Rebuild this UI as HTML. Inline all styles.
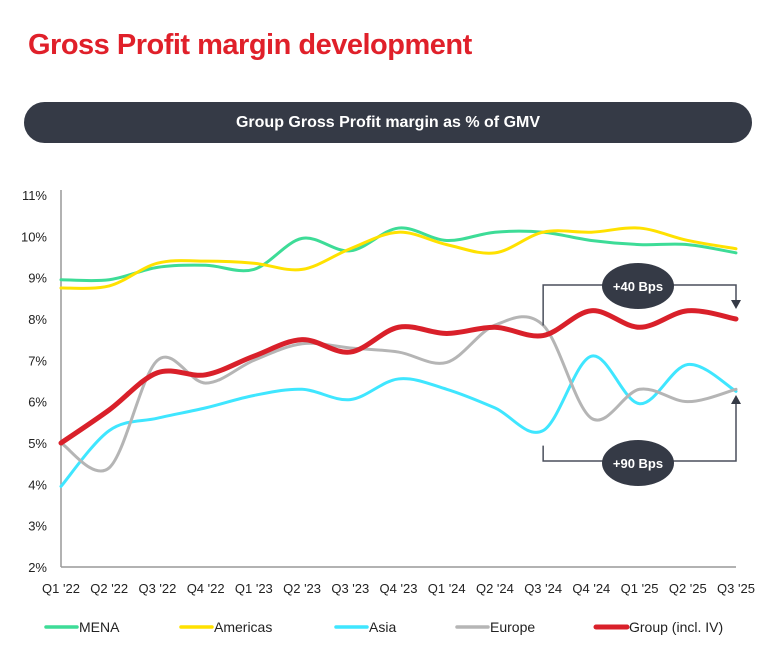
<!DOCTYPE html>
<html><head><meta charset="utf-8"><style>
body{margin:0;width:774px;height:658px;background:#fff;font-family:"Liberation Sans",sans-serif;overflow:hidden;position:relative}
.title{position:absolute;left:28px;top:29px;font-size:29px;font-weight:bold;color:#e0202a;letter-spacing:-0.5px}
.banner{position:absolute;left:24px;top:102px;width:728px;height:41px;border-radius:21px;background:#353a46;color:#fff;font-size:16px;font-weight:bold;text-align:center;line-height:41px}
svg{position:absolute;left:0;top:0}
</style></head><body>
<div class="title">Gross Profit margin development</div>
<div class="banner">Group Gross Profit margin as % of GMV</div>
<svg id="c" width="774" height="658"></svg>
<script>
const categories=["Q1 '22","Q2 '22","Q3 '22","Q4 '22","Q1 '23","Q2 '23","Q3 '23","Q4 '23","Q1 '24","Q2 '24","Q3 '24","Q4 '24","Q1 '25","Q2 '25","Q3 '25"];
const yTicks=[2,3,4,5,6,7,8,9,10,11];
const mena=[8.95,8.95,9.25,9.3,9.2,9.95,9.65,10.2,9.9,10.1,10.1,9.9,9.8,9.8,9.6];
const americas=[8.75,8.8,9.35,9.4,9.35,9.2,9.7,10.1,9.8,9.6,10.1,10.1,10.2,9.9,9.7];
const asia=[3.95,5.3,5.6,5.85,6.15,6.3,6.05,6.55,6.3,5.85,5.3,7.1,5.95,6.9,6.25];
const europe=[5.0,4.4,7.0,6.45,7.0,7.4,7.3,7.2,6.95,7.85,7.85,5.6,6.3,6.0,6.3];
const group=[5.0,5.8,6.7,6.65,7.1,7.5,7.2,7.8,7.65,7.8,7.6,8.2,7.8,8.2,8.0];
const seriesNames=["MENA","Americas","Asia","Europe","Group (incl. IV)"];
const ns="http://www.w3.org/2000/svg",svg=document.getElementById('c');
const x0=61,x1=736,yB=567,yT=195;
const X=i=>x0+i*(x1-x0)/(categories.length-1);
const Y=v=>yB-(v-2)*(yB-yT)/9;
function el(t,a){const e=document.createElementNS(ns,t);for(const k in a)e.setAttribute(k,a[k]);svg.appendChild(e);return e;}
let e=el('line',{x1:x0,y1:yT-5,x2:x0,y2:yB,stroke:'#999','stroke-width':1.5});

e=el('line',{x1:x0,y1:yB,x2:x1,y2:yB,stroke:'#999','stroke-width':1.5});

yTicks.forEach(v=>{const t=el('text',{x:47,y:Y(v)+5,'text-anchor':'end','font-size':13,fill:'#222'});t.textContent=v+'%';
});
categories.forEach((c,i)=>{const t=el('text',{x:X(i),y:593,'text-anchor':'middle','font-size':13,fill:'#222'});t.textContent=c;
});
function path(d){const p=d.map((v,i)=>[X(i),Y(v)]);let s='M'+p[0][0]+','+p[0][1];
for(let i=0;i<p.length-1;i++){const a=p[i-1]||p[i],b=p[i],c=p[i+1],d2=p[i+2]||c;
s+=` C${b[0]+(c[0]-a[0])/6},${b[1]+(c[1]-a[1])/6} ${c[0]-(d2[0]-b[0])/6},${c[1]-(d2[1]-b[1])/6} ${c[0]},${c[1]}`;}return s;}
const cols=['#3ddc97','#ffe100','#3fe6ff','#b5b5b5','#d9202a'];
const widths=[3,3,3,3,5];
[mena,americas,asia,europe,group].forEach((d,k)=>{const p=el('path',{d:path(d),fill:'none',stroke:cols[k],'stroke-width':widths[k],'stroke-linecap':'round'});
});
const ax=X(10);
e=el('path',{d:`M${ax},${Y(group[10])-10} V285 H${x1} V300`,fill:'none',stroke:'#4a4f5c','stroke-width':1.5});

e=el('path',{d:`M${x1-5},300 L${x1+5},300 L${x1},309 Z`,fill:'#353a46'});

e=el('path',{d:`M${ax},${Y(asia[10])+15} V461 H${x1} V404`,fill:'none',stroke:'#4a4f5c','stroke-width':1.5});

e=el('path',{d:`M${x1-5},404 L${x1+5},404 L${x1},395 Z`,fill:'#353a46'});

[[286,'+40 Bps'],[463,'+90 Bps']].forEach(([cy,t])=>{const g=el('ellipse',{cx:638,cy:cy,rx:36,ry:23,fill:'#353a46'});

const tx=el('text',{x:638,y:cy+5,'text-anchor':'middle','font-size':13,'font-weight':'bold',fill:'#fff'});tx.textContent=t;
});
const lx=[46,181,336,457,596];
seriesNames.forEach((n,k)=>{const l=el('line',{x1:lx[k],y1:627,x2:lx[k]+31,y2:627,stroke:cols[k],'stroke-width':k==4?5:3.5,'stroke-linecap':'round'});

const t=el('text',{x:lx[k]+33,y:632,'font-size':14,fill:'#222'});t.textContent=n;
});
</script>
</body></html>
